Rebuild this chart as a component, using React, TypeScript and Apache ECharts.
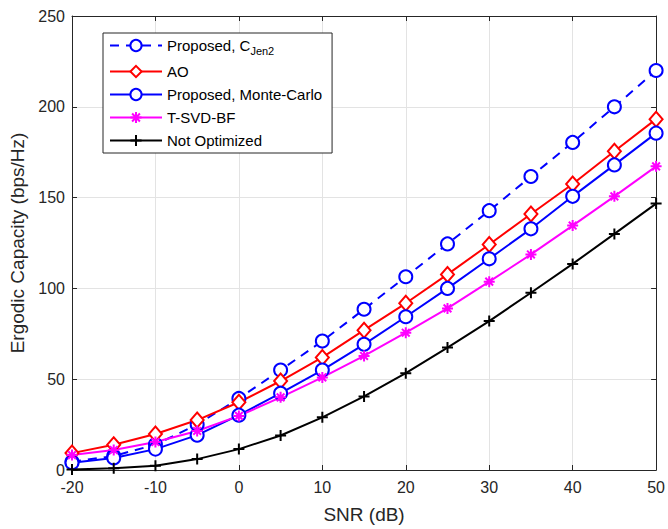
import React, { useEffect, useRef } from "react";
import * as echarts from "echarts";

const snr = [-20, -15, -10, -5, 0, 5, 10, 15, 20, 25, 30, 35, 40, 45, 50];
const proposedJen2 = [4.6, 7.7, 14, 25, 39.4, 55, 71, 88.5, 106.4, 124.5, 142.8, 161.6, 180.4, 200, 220];
const ao = [9.3, 13.9, 19.8, 27.5, 37.3, 49, 62, 77, 91.8, 107.7, 124.2, 141, 157.5, 175.5, 193.2];
const proposedMC = [4, 6.6, 11.5, 19.2, 30.2, 42.3, 55, 69.2, 84.4, 100, 116.3, 132.8, 150.7, 168, 185.5];
const tsvd = [8.2, 11, 15.4, 21.5, 29.8, 40, 51, 62.8, 75.6, 89, 103.7, 118.7, 134.6, 150.7, 167.2];
const notOpt = [0.3, 1, 2.4, 6, 11.5, 19, 29, 40.5, 53.3, 67.4, 82, 97.6, 113.5, 130, 146.7];

const seriesNames = ["Proposed, C_Jen2", "AO", "Proposed, Monte-Carlo", "T-SVD-BF", "Not Optimized"];

const plusPath = "path://M5,0 L5,10 M0,5 L10,5";
const starPath = "path://M5,0 L5,10 M0,5 L10,5 M1.5,1.5 L8.5,8.5 M8.5,1.5 L1.5,8.5";

export default function App() {
  const ref = useRef<HTMLDivElement>(null);
  useEffect(() => {
    if (!ref.current) return;
    const chart = echarts.init(ref.current, null, { renderer: "svg" });
    const font = "Liberation Sans, Arial, sans-serif";
    const mk = (name: string, data: number[], color: string, symbol: string, size: number | number[], dashed: boolean) => ({
      name,
      type: "line",
      data: snr.map((x, i) => [x, data[i]]),
      symbol,
      symbolSize: size,
      showAllSymbol: true,
      lineStyle: { color, width: 2, type: dashed ? [9, 7] : "solid" },
      itemStyle: { color, borderColor: color, borderWidth: 2 },
      emphasis: { disabled: true },
    });
    chart.setOption({
      animation: false,
      textStyle: { fontFamily: font },
      grid: { left: 72, right: 11, top: 16, bottom: 58 },
      legend: {
        orient: "vertical",
        left: 103,
        top: 33,
        padding: [5, 10, 5, 6],
        backgroundColor: "#fff",
        borderColor: "#262626",
        borderWidth: 1,
        borderRadius: 0,
        itemWidth: 52,
        itemHeight: 14,
        itemGap: 8,
        data: seriesNames,
        textStyle: {
          fontSize: 15,
          color: "#000",
          fontFamily: font,
          rich: {
            sub: { fontSize: 11, color: "#000", fontFamily: font, padding: [10, 0, 0, 0] },
          },
        },
        formatter: (n: string) => (n === "Proposed, C_Jen2" ? "Proposed, C{sub|Jen2}" : n),
      },
      xAxis: [
        {
          type: "value",
          min: -20,
          max: 50,
          interval: 10,
          name: "SNR (dB)",
          nameLocation: "middle",
          nameGap: 35,
          nameTextStyle: { fontSize: 19, color: "#262626" },
          axisLine: { onZero: false, lineStyle: { color: "#262626", width: 1 } },
          axisTick: { inside: true, length: 5, lineStyle: { color: "#262626" } },
          axisLabel: { fontSize: 16, color: "#262626", margin: 9 },
          splitLine: { show: true, lineStyle: { color: "#e3e3e3", width: 1 } },
        },
        {
          type: "value",
          position: "top",
          min: -20,
          max: 50,
          interval: 10,
          axisLine: { show: true, onZero: false, lineStyle: { color: "#262626", width: 1 } },
          axisTick: { inside: true, length: 5, lineStyle: { color: "#262626" } },
          axisLabel: { show: false },
          splitLine: { show: false },
        },
      ],
      yAxis: [
        {
          type: "value",
          min: 0,
          max: 250,
          interval: 50,
          name: "Ergodic Capacity (bps/Hz)",
          nameLocation: "middle",
          nameGap: 41,
          nameTextStyle: { fontSize: 19, color: "#262626" },
          axisLine: { show: true, onZero: false, lineStyle: { color: "#262626", width: 1 } },
          axisTick: { show: true, inside: true, length: 5, lineStyle: { color: "#262626" } },
          axisLabel: { fontSize: 16, color: "#262626", margin: 7 },
          splitLine: { show: true, lineStyle: { color: "#e3e3e3", width: 1 } },
        },
        {
          type: "value",
          position: "right",
          min: 0,
          max: 250,
          interval: 50,
          axisLine: { show: true, onZero: false, lineStyle: { color: "#262626", width: 1 } },
          axisTick: { show: true, inside: true, length: 5, lineStyle: { color: "#262626" } },
          axisLabel: { show: false },
          splitLine: { show: false },
        },
      ],
      series: [
        mk(seriesNames[0], proposedJen2, "#0000ff", "emptyCircle", 13, true),
        mk(seriesNames[1], ao, "#ff0000", "emptyDiamond", [13, 15], false),
        mk(seriesNames[2], proposedMC, "#0000ff", "emptyCircle", 13, false),
        mk(seriesNames[3], tsvd, "#ff00ff", starPath, 11, false),
        mk(seriesNames[4], notOpt, "#000000", plusPath, 11, false),
      ],
    });
    return () => chart.dispose();
  }, []);
  return <div ref={ref} style={{ position: "absolute", left: 0, top: 0, width: 668, height: 529 }} />;
}
